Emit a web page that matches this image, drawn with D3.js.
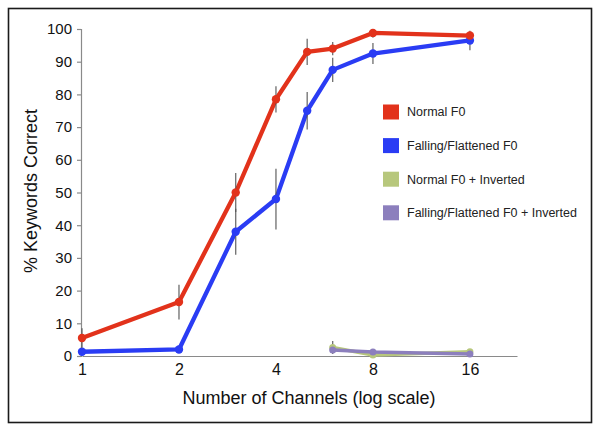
<!DOCTYPE html>
<html>
<head>
<meta charset="utf-8">
<script src="https://cdn.jsdelivr.net/npm/d3@7"></script>
<style>
  html, body { margin: 0; padding: 0; background: #fff; }
  svg { display: block; font-family: "Liberation Sans", Arial, Helvetica, sans-serif; }
</style>
</head>
<body>
<svg id="chart" width="600" height="430"></svg>
<script>
// ---- Data ----
const channels = [1, 2, 3, 4, 5, 6, 8, 16];
const normalF0 = [5.5, 16.5, 50, 78.5, 93, 94, 98.8, 98];
const normalF0Err = [3, 5.3, 6, 4, 4, 2, 1.5, 1];
const fallingF0 = [1.3, 2, 38, 48, 75, 87.5, 92.5, 96.5];
const fallingF0Err = [0.4, 0.4, 7, 9.3, 5.7, 3.7, 3.2, 3];

const invChannels = [6, 8, 16];
const normalInv = [2.6, 0.3, 1.3];
const normalInvErr = [2, 0.4, 0.4];
const fallingInv = [1.8, 1.2, 0.6];
const fallingInvErr = [0.8, 0.4, 0.4];

const xTicks = [1, 2, 4, 8, 16];
const yTicks = [0, 10, 20, 30, 40, 50, 60, 70, 80, 90, 100];
const xDomain = [1, 22.4];
const yDomain = [0, 100];

const seriesNames = ["Normal F0", "Falling/Flattened F0", "Normal F0 + Inverted", "Falling/Flattened F0 + Inverted"];
const seriesColors = ["#e2321b", "#2a3cf4", "#b7c77c", "#8c7fbd"];

// ---- Setup ----
const svg = d3.select("#chart");
svg.append("rect").attr("x", 8.5).attr("y", 8.5).attr("width", 583).attr("height", 414)
  .attr("fill", "#fff").attr("stroke", "#1a1a1a").attr("stroke-width", 1.6);

const x = d3.scaleLog().base(2).domain(xDomain).range([82, 517]);
const y = d3.scaleLinear().domain(yDomain).range([356, 29]);

// Y axis
const yAxis = svg.append("g").attr("transform", "translate(81,0)")
  .call(d3.axisLeft(y).tickValues(yTicks).tickSize(4).tickSizeOuter(4).tickPadding(5).tickFormat(d3.format("d")));
yAxis.select(".domain").attr("stroke", "#8a8a8a").attr("stroke-width", 1.2);
yAxis.selectAll(".tick line").attr("stroke", "#8a8a8a").attr("stroke-width", 1.2);
yAxis.selectAll(".tick text").attr("font-size", 15).attr("fill", "#111")
  .attr("font-family", "Liberation Sans, Arial, sans-serif");

// X axis
const xAxis = svg.append("g").attr("transform", "translate(0,356)")
  .call(d3.axisBottom(x).tickValues(xTicks).tickSize(0).tickSizeOuter(0).tickPadding(8).tickFormat(d3.format("d")));
xAxis.select(".domain").attr("stroke", "#8a8a8a").attr("stroke-width", 1.2);
xAxis.selectAll(".tick text").attr("font-size", 16).attr("fill", "#111")
  .attr("font-family", "Liberation Sans, Arial, sans-serif");

// Axis titles
svg.append("text").attr("x", 309).attr("y", 404).attr("text-anchor", "middle")
  .attr("font-size", 18).attr("fill", "#111").text("Number of Channels (log scale)");
svg.append("text").attr("transform", "translate(37,191) rotate(-90)").attr("text-anchor", "middle")
  .attr("font-size", 18).attr("fill", "#111").text("% Keywords Correct");

// ---- Series ----
const series = [
  { xs: invChannels, ys: normalInv, err: normalInvErr, color: seriesColors[2], w: 3.5, r: 3.5 },
  { xs: invChannels, ys: fallingInv, err: fallingInvErr, color: seriesColors[3], w: 3.5, r: 3.5 },
  { xs: channels, ys: fallingF0, err: fallingF0Err, color: seriesColors[1], w: 4.3, r: 4.2 },
  { xs: channels, ys: normalF0, err: normalF0Err, color: seriesColors[0], w: 4.3, r: 4.2 }
];

const line = d3.line().x(d => x(d[0])).y(d => y(d[1]));

series.forEach(s => {
  const pts = s.xs.map((c, i) => [c, s.ys[i], s.err[i]]);
  const g = svg.append("g");
  g.append("path").datum(pts).attr("d", line).attr("fill", "none")
    .attr("stroke", s.color).attr("stroke-width", s.w).attr("stroke-linejoin", "round");
  g.selectAll("line.err").data(pts).join("line").attr("class", "err")
    .attr("x1", d => x(d[0])).attr("x2", d => x(d[0]))
    .attr("y1", d => y(Math.min(100, d[1] + d[2]))).attr("y2", d => y(Math.max(0, d[1] - d[2])))
    .attr("stroke", "#555").attr("stroke-width", 1.3).attr("opacity", 0.85);
  g.selectAll("circle").data(pts).join("circle")
    .attr("cx", d => x(d[0])).attr("cy", d => y(d[1])).attr("r", s.r).attr("fill", s.color);
});

// ---- Legend ----
const legend = svg.append("g");
seriesNames.forEach((name, i) => {
  const cy = 112 + i * 33.6;
  legend.append("rect").attr("x", 383).attr("y", cy - 7.5).attr("width", 16).attr("height", 15)
    .attr("fill", seriesColors[i]);
  legend.append("text").attr("x", 407).attr("y", cy + 4.4).attr("font-size", 12.5).attr("fill", "#222")
    .text(name);
});
</script>
</body>
</html>
